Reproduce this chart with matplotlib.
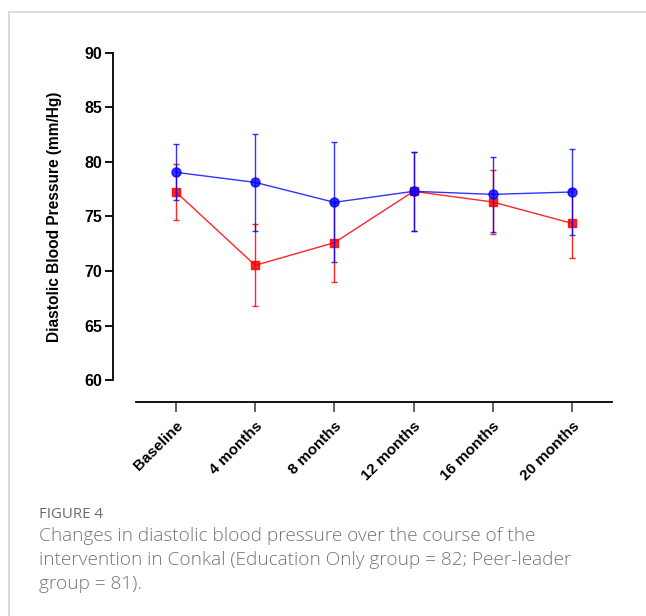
import matplotlib
matplotlib.use("Agg")
import matplotlib.pyplot as plt
from matplotlib.lines import Line2D

categories = ["Baseline", "4 months", "8 months", "12 months", "16 months", "20 months"]
edu_mean = [79.05, 78.13, 76.30, 77.31, 77.03, 77.25]
edu_err = [2.57, 4.47, 5.50, 3.60, 3.44, 3.95]
peer_mean = [77.25, 70.52, 72.60, 77.31, 76.33, 74.37]
peer_err = [2.60, 3.75, 3.64, 3.60, 2.90, 3.15]
yticks = [60, 65, 70, 75, 80, 85, 90]

plt.rcParams['font.family'] = ['Liberation Sans', 'DejaVu Sans']

fig = plt.figure(figsize=(6.46, 6.16), dpi=100)
W, H = 646, 616

# frame lines (figure card border)
fig.add_artist(Line2D([9 / W, 9 / W], [0, 1 - 12 / H], color='#d6d6d6', lw=1.2, transform=fig.transFigure))
fig.add_artist(Line2D([9 / W, 1], [1 - 12 / H, 1 - 12 / H], color='#d6d6d6', lw=1.2, transform=fig.transFigure))

left, right = 113 / W, 612 / W
bottom, top = (H - 380) / H, (H - 53) / H
ax = fig.add_axes([left, bottom, right - left, top - bottom])

for s in ['top', 'right']:
    ax.spines[s].set_visible(False)
ax.spines['bottom'].set_position(('outward', 16))
ax.spines['bottom'].set_bounds(-0.505, 5.505)
ax.spines['left'].set_linewidth(1.3)
ax.spines['bottom'].set_linewidth(1.3)

x = list(range(len(categories)))

ax.errorbar(x, peer_mean, yerr=peer_err, color='red', lw=1.0, alpha=0.85,
            marker='s', markersize=6, ecolor=(1, 0, 0, 0.4), elinewidth=1.0,
            capsize=2.5, capthick=1.0, zorder=2)
ax.errorbar(x, edu_mean, yerr=edu_err, color='blue', lw=1.0, alpha=0.8,
            marker='o', markersize=6.5, ecolor=(0, 0, 1, 0.35), elinewidth=1.0,
            capsize=2.5, capthick=1.0, zorder=3)

ax.set_ylim(60, 90)
ax.set_xlim(-0.795, 5.505)
ax.set_yticks(yticks)
ax.set_yticklabels([str(v) for v in yticks], fontsize=11.5, fontweight='bold')
ax.set_xticks(x)
ax.set_xticklabels(categories, rotation=45, ha='right', rotation_mode='anchor',
                   fontsize=11, fontweight='bold')

ax.tick_params(axis='y', length=6, width=1.3, pad=2)
ax.tick_params(axis='x', length=7, width=1.3, pad=5, color='#555555')

ax.set_ylabel("Diastolic Blood Pressure (mm/Hg)", fontsize=11.2, fontweight='bold', labelpad=16)

fig.text(39 / W, 1 - 515 / H, "FIGURE 4", fontsize=10.8, color='#6b6b6b', family='Open Sans', va='center')
cap = ("Changes in diastolic blood pressure over the course of the\n"
       "intervention in Conkal (Education Only group = 82; Peer-leader\n"
       "group = 81).")
fig.text(39 / W, 1 - 527 / H, cap, fontsize=13.7, color='#757575', family='Open Sans',
         fontweight=300, va='top', linespacing=1.42)

fig.savefig("out.png", dpi=100)
